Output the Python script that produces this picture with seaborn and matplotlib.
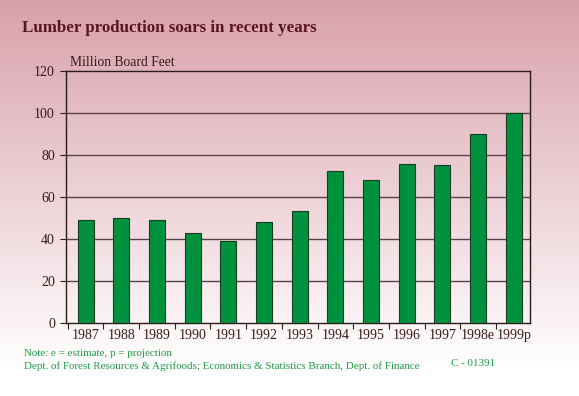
import matplotlib.pyplot as plt
import seaborn as sns
import pandas as pd
import numpy as np

years = ['1987', '1988', '1989', '1990', '1991', '1992', '1993',
         '1994', '1995', '1996', '1997', '1998e', '1999p']
production = [49, 49.8, 48.9, 42.8, 39, 48.2, 53.5, 72.4, 68.1, 75.6, 75.1, 90.1, 100.1]

df = pd.DataFrame({'Year': years, 'Production': production})

sns.set_theme(style='white')
plt.rcParams['font.family'] = ['Liberation Serif', 'DejaVu Serif']

fig = plt.figure(figsize=(5.79, 3.96), dpi=100)

# background gradient (pink at top fading to white)
bg = fig.add_axes([0, 0, 1, 1], zorder=-10)
top = np.array([0.85, 0.63, 0.67])
bot = np.array([1.0, 1.0, 1.0])
t = np.linspace(0, 1, 256)
t = np.clip(t / 0.93, 0, 1)[:, None]
grad = top * (1 - t) + bot * t
bg.imshow(grad[:, None, :], aspect='auto', extent=[0, 1, 0, 1])
bg.axis('off')

ax = fig.add_axes([0.114, 0.184, 0.801, 0.637])
ax.patch.set_alpha(0)
sns.barplot(data=df, x='Year', y='Production', color='#00913f', saturation=1,
            width=0.45, edgecolor='#1a3a22', linewidth=0.8, ax=ax, zorder=3)

ax.set_ylim(0, 120)
ax.set_xlim(-0.55, 12.45)
ax.set_yticks(range(0, 121, 20))
ax.set_yticklabels([str(v) for v in range(0, 121, 20)], fontsize=10, color='#3a1a1a')
ax.set_xticklabels(years, fontsize=10, color='#3a1a1a')
ax.set_xlabel('')
ax.set_ylabel('')
for y in range(20, 101, 20):
    ax.axhline(y, color='#5a4048', linewidth=1.0, zorder=1)
for s in ax.spines.values():
    s.set_color('#2a1a1a')
    s.set_linewidth(1.0)
ax.tick_params(axis='y', length=4, width=0.8, color='#2a1a1a', left=True, pad=4)
ax.tick_params(axis='x', length=0, pad=4)
ax.set_xticks(np.arange(-0.5, 12.5, 1), minor=True)
ax.tick_params(axis='x', which='minor', length=4, width=0.8, color='#2a1a1a', bottom=True)

fig.text(0.121, 0.834, 'Million Board Feet', fontsize=9.8, color='#3a1a1a')
fig.text(0.038, 0.918, 'Lumber production soars in recent years', fontsize=12.2,
         fontweight='bold', color='#5a1525')
fig.text(0.041, 0.101, 'Note: e = estimate, p = projection', fontsize=7.9, color='#1f9a45')
fig.text(0.041, 0.068, 'Dept. of Forest Resources & Agrifoods; Economics & Statistics Branch, Dept. of Finance',
         fontsize=7.9, color='#1f9a45')
fig.text(0.779, 0.075, 'C - 01391', fontsize=7.9, color='#1f9a45')

fig.savefig('out.png', dpi=100)
